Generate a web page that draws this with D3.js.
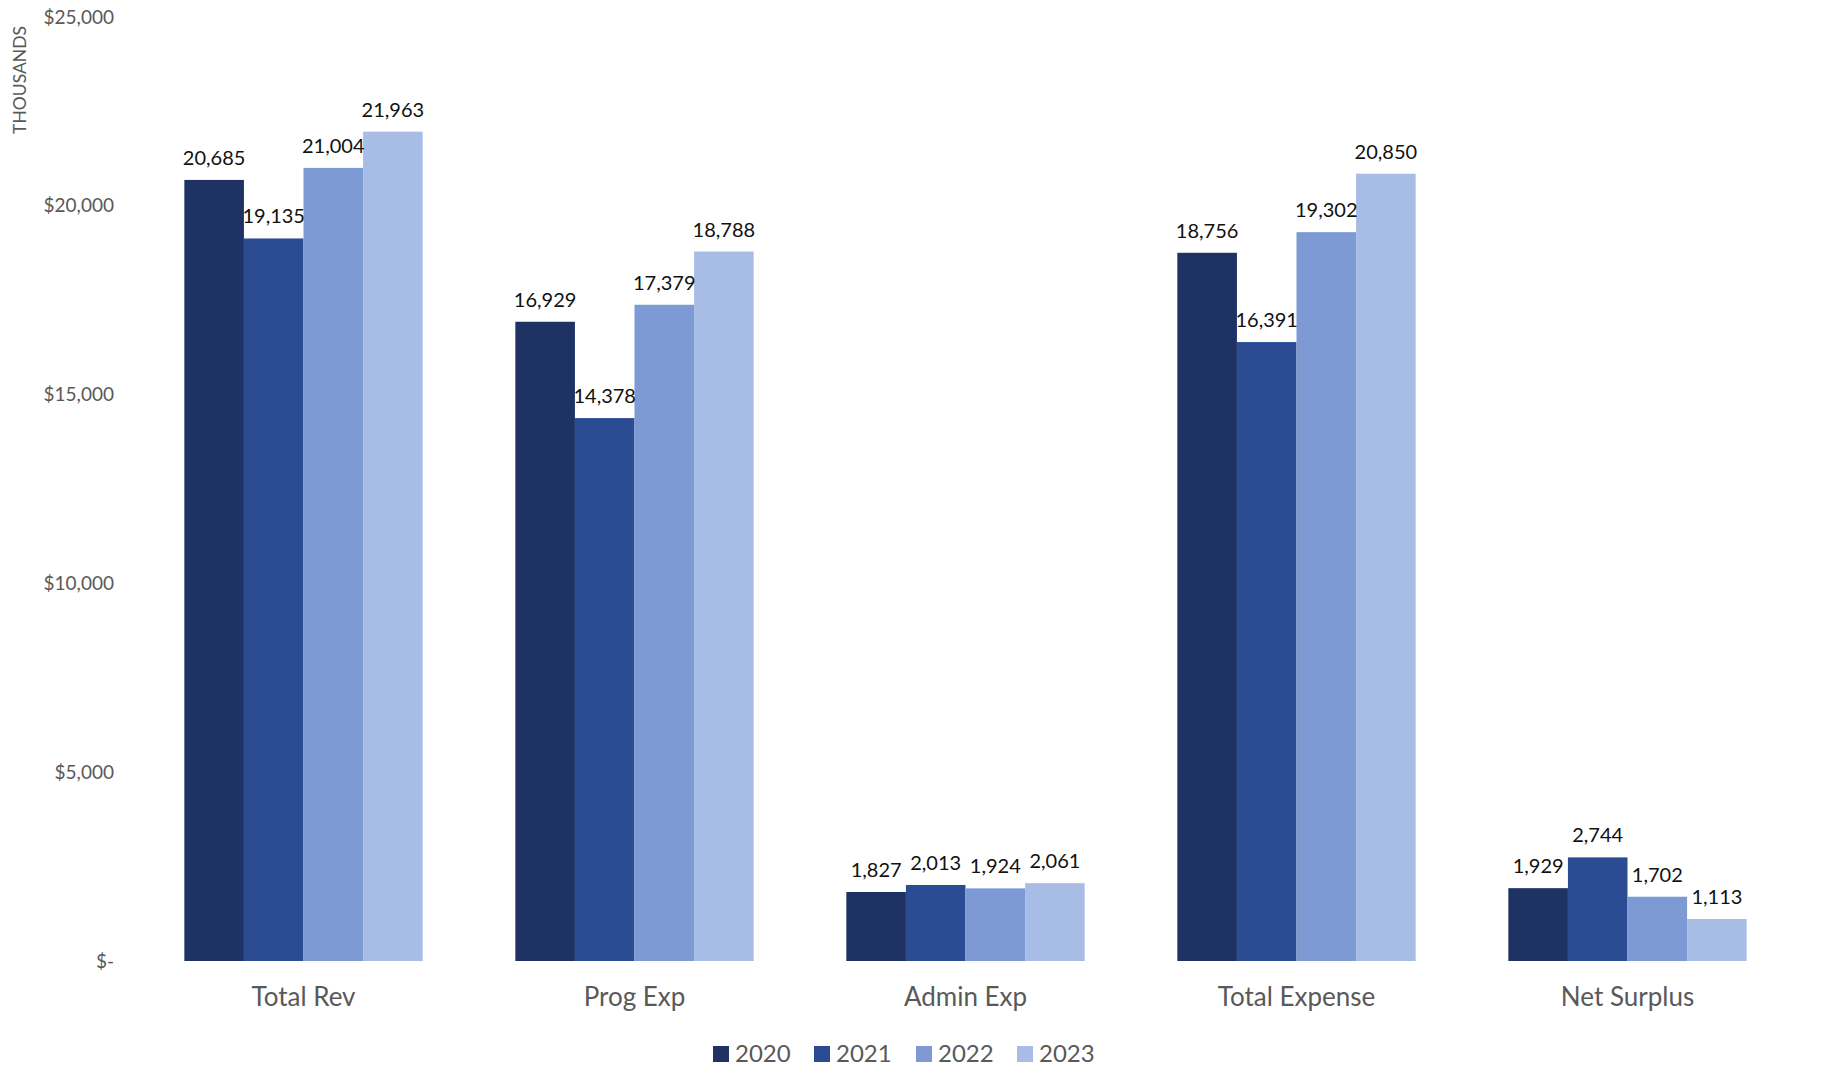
<!DOCTYPE html>
<html>
<head>
<meta charset="utf-8">
<script src="https://cdn.jsdelivr.net/npm/d3@7"></script>
<style>
  html, body { margin: 0; padding: 0; background: #ffffff; }
  svg { display: block; font-family: Lato, "Open Sans", sans-serif; }
</style>
</head>
<body>
<svg id="chart" width="1822" height="1067"></svg>
<script>
const categories = ["Total Rev", "Prog Exp", "Admin Exp", "Total Expense", "Net Surplus"];
const years = ["2020", "2021", "2022", "2023"];
const values2020 = [20685, 16929, 1827, 18756, 1929];
const values2021 = [19135, 14378, 2013, 16391, 2744];
const values2022 = [21004, 17379, 1924, 19302, 1702];
const values2023 = [21963, 18788, 2061, 20850, 1113];
const yTicks = [0, 5000, 10000, 15000, 20000, 25000];
const colors = ["#1e3263", "#2b4c93", "#7d9ad5", "#a8bde6"];

const seriesValues = [values2020, values2021, values2022, values2023];
const data = categories.map((c, i) => ({
  category: c,
  items: years.map((y, j) => ({ year: y, value: seriesValues[j][i] }))
}));

const svg = d3.select("#chart");

const x0 = d3.scaleBand().domain(categories).range([138, 1793]).paddingInner(0.28).paddingOuter(0.14);
const x1 = d3.scaleBand().domain(years).range([0, x0.bandwidth()]).padding(0);
const y = d3.scaleLinear().domain([0, 25000]).range([961, 17]);
const color = d3.scaleOrdinal().domain(years).range(colors);

// Y axis
const fmt = d3.format(",");
const yAxis = d3.axisLeft(y).tickValues(yTicks).tickSize(0).tickPadding(0)
  .tickFormat(d => d === 0 ? "$-" : "$" + fmt(d));
const yg = svg.append("g").attr("transform", "translate(114,0)").call(yAxis);
yg.select(".domain").remove();
yg.selectAll("text").attr("fill", "#595959").style("font-size", "19px").style("font-family", "Lato, sans-serif");

// Axis title
svg.append("text")
  .attr("transform", "translate(26,80) rotate(-90)")
  .attr("text-anchor", "middle")
  .attr("fill", "#595959")
  .style("font-size", "17.5px")
  .text("THOUSANDS");

// Bars
const groups = svg.append("g").selectAll("g").data(data).join("g")
  .attr("transform", d => `translate(${x0(d.category)},0)`);

groups.selectAll("rect").data(d => d.items).join("rect")
  .attr("x", d => x1(d.year))
  .attr("y", d => y(d.value))
  .attr("width", x1.bandwidth())
  .attr("height", d => y(0) - y(d.value))
  .attr("fill", d => color(d.year));

groups.selectAll("text.val").data(d => d.items).join("text")
  .attr("class", "val")
  .attr("x", d => x1(d.year) + x1.bandwidth() / 2)
  .attr("y", d => y(d.value) - 15)
  .attr("text-anchor", "middle")
  .attr("fill", "#111111")
  .style("font-size", "20px")
  .text(d => fmt(d.value));

// X axis labels
const xAxis = d3.axisBottom(x0).tickSize(0).tickPadding(0);
const xg = svg.append("g").attr("transform", "translate(0,988)").call(xAxis);
xg.select(".domain").remove();
xg.selectAll("text").attr("fill", "#595959").attr("dy", "0.71em").style("font-size", "26px").style("font-family", "Lato, sans-serif");

// Legend
const legendX = [713, 814, 916, 1017];
const legend = svg.append("g").selectAll("g").data(years).join("g")
  .attr("transform", (d, i) => `translate(${legendX[i]},1046)`);
legend.append("rect").attr("width", 16).attr("height", 16).attr("fill", d => color(d));
legend.append("text").attr("x", 22).attr("y", 16)
  .attr("fill", "#595959").style("font-size", "24px").text(d => d);
</script>
</body>
</html>
